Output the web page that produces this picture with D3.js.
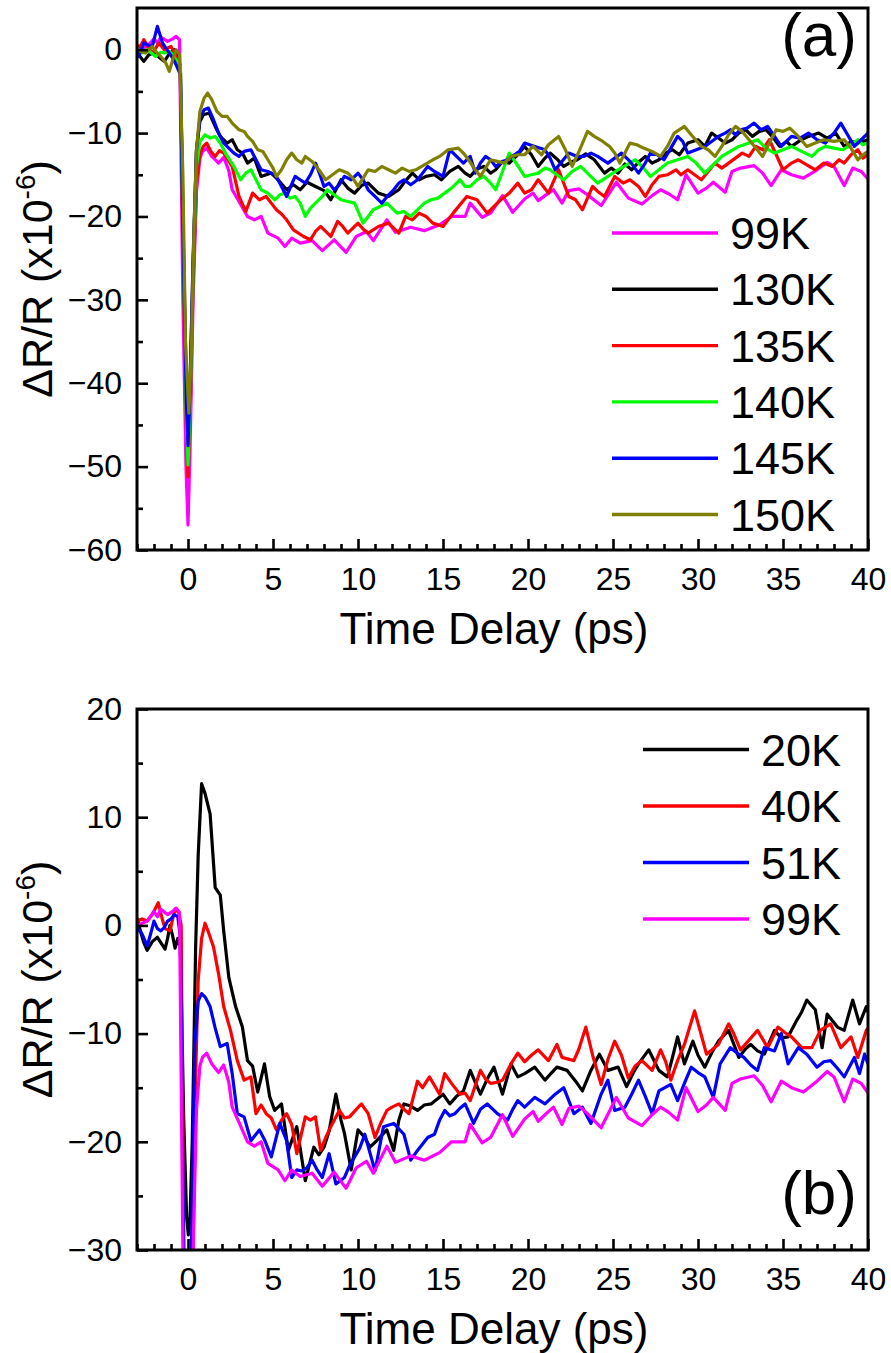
<!DOCTYPE html>
<html>
<head>
<meta charset="utf-8">
<script src="https://cdn.jsdelivr.net/npm/d3@7"></script>
<style>
  body { margin: 0; background: #fff; }
  svg { display: block; }
  text { font-family: "Liberation Sans", Arial, sans-serif; fill: #000; }
</style>
</head>
<body>
<svg id="chart" width="891" height="1353"></svg>
<script>
// ---- data: [time delay (ps), dR/R (x1e-6)] ----
const k99 = [[-3,0],[-2.7,0.2],[-2.4,0.4],[-2.0,1.3],[-1.8,0.8],[-1.6,1.5],[-1.2,1.0],[-0.9,1.3],[-0.7,1.6],[-0.5,1.2],[-0.3,-30],[-0.12,-50],[0,-57],[0.12,-48],[0.3,-30],[0.5,-17],[0.7,-13],[0.85,-12.2],[1.1,-11.8],[1.4,-12.8],[1.8,-13.6],[2.1,-12.9],[2.4,-14.5],[2.6,-16.8],[3.0,-18.2],[3.5,-20.0],[3.9,-20.4],[4.3,-20.0],[4.7,-22.0],[5.3,-22.6],[5.7,-23.6],[6.1,-22.6],[6.6,-23.2],[7.3,-22.9],[7.9,-24.1],[8.6,-22.8],[9.3,-24.3],[9.9,-22.4],[10.5,-21.8],[10.9,-22.9],[11.7,-20.4],[12.2,-21.9],[13.1,-21.3],[13.9,-21.7],[14.8,-21.0],[15.5,-20.0],[16.3,-20.0],[16.6,-18.4],[17.3,-20.1],[17.8,-19.6],[18.5,-17.5],[19.1,-19.5],[19.8,-17.9],[20.3,-17.2],[20.6,-18.1],[21.0,-17.5],[21.5,-16.8],[22.0,-18.4],[22.4,-16.9],[23.0,-16.7],[23.5,-17.4],[24.3,-18.7],[25.2,-15.9],[25.9,-17.8],[26.7,-18.5],[27.3,-17.5],[27.8,-16.8],[28.3,-17.3],[28.8,-18.0],[29.3,-15.0],[30.0,-17.2],[30.5,-16.6],[30.9,-15.9],[31.6,-17.1],[32.0,-14.6],[32.5,-14.2],[33.3,-13.9],[33.8,-14.8],[34.3,-16.3],[34.9,-14.4],[35.5,-15.0],[36.2,-15.4],[37.0,-14.4],[37.6,-13.5],[38.0,-14.0],[38.6,-16.3],[39.1,-14.2],[39.6,-14.6],[40,-15.5]];

const k130 = [[-3,-0.2],[-2.9,-0.6],[-2.6,-1.4],[-2.3,-0.6],[-2.0,-0.4],[-1.7,-0.9],[-1.4,-1.4],[-1.1,-0.5],[-0.8,0],[-0.6,-0.8],[-0.45,-2],[-0.25,-25],[-0.1,-40],[0,-46],[0.12,-40],[0.3,-25],[0.5,-12],[0.7,-8.6],[0.9,-7.8],[1.25,-7.6],[1.6,-9.2],[1.9,-10.4],[2.3,-11.2],[2.6,-10.8],[2.9,-12.0],[3.2,-12.4],[3.5,-13.6],[3.9,-13.0],[4.3,-15.2],[4.9,-14.8],[5.3,-15.6],[5.8,-16.8],[6.2,-16.2],[6.6,-16.8],[7.0,-15.9],[7.5,-16.4],[8.0,-16.9],[8.4,-18.0],[9.0,-15.6],[9.4,-16.6],[9.8,-17.2],[10.2,-16.3],[10.6,-16.0],[11.2,-17.2],[11.8,-17.6],[12.4,-16.8],[12.8,-15.7],[13.2,-14.8],[13.6,-15.6],[14.0,-15.2],[14.5,-15.0],[14.9,-15.6],[15.4,-14.6],[15.9,-14.0],[16.3,-14.8],[16.6,-15.2],[17.0,-14.3],[17.4,-14.0],[17.8,-14.8],[18.1,-14.4],[18.5,-13.4],[18.9,-13.6],[19.3,-12.8],[19.8,-11.6],[20.2,-12.6],[20.6,-14.0],[21.0,-13.0],[21.3,-12.4],[21.7,-13.1],[22.1,-14.0],[22.5,-13.5],[22.9,-13.2],[23.4,-12.5],[23.9,-13.2],[24.5,-14.8],[24.9,-14.2],[25.3,-14.8],[25.7,-13.7],[26.1,-14.4],[26.5,-13.5],[26.9,-12.8],[27.3,-13.6],[27.7,-13.2],[28.1,-12.4],[28.5,-12.0],[28.9,-12.6],[29.4,-11.2],[30.0,-10.8],[30.4,-11.6],[30.8,-10.0],[31.2,-10.6],[31.6,-11.2],[32.0,-10.8],[32.4,-10.0],[32.8,-9.6],[33.2,-10.4],[33.6,-9.8],[34.0,-9.6],[34.4,-10.5],[34.8,-11.6],[35.2,-11.0],[35.5,-11.6],[36.0,-10.9],[36.5,-10.4],[37.1,-10.0],[37.6,-10.6],[38.1,-10.0],[38.6,-11.6],[39.0,-11.0],[39.4,-11.2],[40,-10.8]];

const k135 = [[-3,0.5],[-2.8,0.4],[-2.6,1.2],[-2.3,0.2],[-2.1,-0.4],[-1.7,0.8],[-1.4,0],[-1.0,0.4],[-0.7,-0.8],[-0.45,-2],[-0.25,-28],[-0.1,-45],[0,-51.2],[0.12,-44],[0.3,-28],[0.5,-16],[0.7,-12.5],[0.9,-11.6],[1.1,-11.2],[1.35,-12.2],[1.6,-12.8],[1.85,-12.1],[2.1,-12.4],[2.6,-14.0],[2.8,-15.8],[3.0,-17.6],[3.4,-19.4],[3.8,-17.2],[4.2,-18.0],[4.6,-17.6],[4.9,-18.4],[5.2,-19.2],[5.5,-19.7],[5.8,-20.4],[6.2,-21.6],[6.8,-22.4],[7.2,-22.8],[7.5,-21.8],[7.8,-21.2],[8.1,-21.8],[8.4,-22.4],[8.8,-20.6],[9.1,-21.2],[9.4,-22.0],[10.0,-20.8],[10.3,-21.5],[10.6,-22.0],[11.2,-21.2],[11.8,-20.8],[12.4,-22.0],[12.8,-20.0],[13.2,-20.4],[13.6,-19.6],[14.0,-20.0],[14.4,-20.8],[15.0,-21.2],[15.6,-19.6],[16.0,-18.6],[16.4,-17.6],[17.0,-18.0],[17.6,-19.6],[18.0,-18.8],[18.4,-18.0],[18.9,-17.2],[19.4,-16.0],[19.8,-17.2],[20.2,-16.8],[20.6,-15.6],[21.2,-17.2],[21.8,-14.4],[22.4,-17.6],[22.8,-18.0],[23.2,-19.2],[23.8,-16.4],[24.1,-17.0],[24.5,-17.6],[25.1,-15.2],[25.6,-16.0],[26.0,-15.6],[26.5,-16.4],[26.9,-17.6],[27.3,-16.2],[27.7,-15.2],[28.2,-15.0],[28.7,-14.4],[29.0,-15.0],[29.4,-14.4],[29.8,-15.0],[30.2,-15.6],[30.6,-14.6],[31.0,-13.6],[31.4,-14.2],[31.8,-13.6],[32.2,-13.0],[32.6,-12.4],[33.0,-12.8],[33.4,-11.6],[33.8,-12.0],[34.2,-10.8],[34.6,-12.6],[35.0,-14.4],[35.5,-13.6],[35.9,-13.2],[36.4,-13.8],[36.9,-14.4],[37.4,-13.6],[37.9,-14.0],[38.3,-13.2],[38.6,-13.6],[39.0,-12.6],[39.4,-12.0],[39.7,-13.0],[40,-12.6]];

const k140 = [[-3,-0.3],[-2.7,-0.4],[-2.4,0],[-2.1,-0.5],[-1.9,-0.8],[-1.6,-0.3],[-1.4,-0.4],[-1.1,-0.2],[-0.9,-0.6],[-0.45,-2],[-0.25,-27],[-0.1,-44],[0,-49.8],[0.12,-43],[0.3,-27],[0.5,-14],[0.7,-11],[1.0,-10.2],[1.3,-10.6],[1.6,-10.4],[1.9,-11.2],[2.2,-12.4],[2.7,-14.0],[3.1,-15.6],[3.4,-14.8],[3.7,-14.4],[4.0,-15.6],[4.3,-16.8],[4.7,-17.2],[5.1,-18.0],[5.4,-17.4],[5.7,-17.2],[6.0,-17.8],[6.3,-17.6],[6.6,-18.4],[6.9,-20.0],[7.2,-19.0],[7.5,-18.4],[7.9,-17.6],[8.2,-16.8],[8.6,-17.4],[9.0,-18.0],[9.4,-18.2],[9.8,-18.4],[10.3,-20.8],[10.6,-20.0],[10.9,-19.2],[11.3,-18.8],[11.7,-18.4],[12.0,-19.0],[12.3,-19.6],[12.7,-19.4],[13.1,-20.0],[13.5,-19.2],[13.9,-18.4],[14.3,-18.0],[14.7,-17.8],[15.1,-17.2],[15.5,-16.6],[16.0,-15.6],[16.3,-16.4],[16.6,-16.4],[17.0,-15.6],[17.4,-15.2],[17.8,-16.0],[18.1,-16.8],[18.5,-14.6],[18.9,-12.4],[19.3,-13.6],[19.8,-15.2],[20.2,-15.0],[20.6,-14.8],[21.0,-14.2],[21.3,-14.4],[21.7,-15.0],[22.1,-15.6],[22.6,-14.6],[23.1,-14.0],[23.6,-15.0],[24.1,-16.0],[24.7,-15.2],[25.3,-14.4],[25.8,-13.8],[26.3,-13.2],[26.8,-14.2],[27.2,-15.2],[27.7,-14.4],[28.2,-13.6],[28.8,-13.2],[29.4,-12.8],[29.9,-13.6],[30.4,-14.8],[30.9,-13.8],[31.4,-12.8],[31.9,-12.2],[32.4,-11.6],[33.0,-11.2],[33.5,-10.8],[34.0,-11.8],[34.5,-12.4],[35.0,-12.0],[35.5,-11.6],[36.1,-12.2],[36.7,-12.8],[37.1,-12.0],[37.5,-11.6],[38.0,-11.8],[38.5,-12.0],[39.0,-11.4],[39.4,-10.8],[39.7,-11.4],[40,-11.2]];

const k145 = [[-3,-0.2],[-2.9,-0.8],[-2.6,0.8],[-2.3,0.5],[-2.1,0.4],[-1.8,2.8],[-1.5,0.8],[-1.3,0.2],[-1.1,-0.4],[-0.9,-1.0],[-0.7,-1.8],[-0.45,-3],[-0.25,-27],[-0.1,-42],[0,-47.5],[0.12,-41],[0.3,-26],[0.5,-12],[0.7,-8.2],[0.95,-7.2],[1.2,-7.0],[1.5,-8.4],[1.8,-10.0],[2.1,-11.2],[2.4,-11.8],[2.7,-12.4],[3.0,-12.8],[3.3,-12.2],[3.7,-12.0],[4.0,-13.2],[4.3,-14.4],[4.7,-14.6],[5.2,-15.2],[5.5,-16.4],[5.8,-17.6],[6.0,-16.6],[6.3,-15.2],[6.6,-15.6],[6.9,-16.0],[7.2,-15.0],[7.5,-13.6],[7.8,-15.2],[8.0,-16.4],[8.3,-16.0],[8.6,-16.8],[8.9,-16.2],[9.2,-15.2],[9.6,-15.6],[10.0,-14.8],[10.3,-15.6],[10.6,-16.8],[11.0,-17.6],[11.4,-18.4],[11.8,-17.4],[12.1,-16.8],[12.4,-16.0],[12.7,-15.6],[13.1,-16.2],[13.5,-15.6],[13.8,-14.8],[14.1,-14.0],[14.5,-14.6],[15.0,-15.2],[15.4,-12.0],[15.8,-12.8],[16.2,-13.6],[16.6,-12.8],[16.9,-14.8],[17.2,-13.6],[17.5,-12.8],[17.8,-13.2],[18.1,-14.0],[18.5,-13.4],[18.8,-13.2],[19.2,-12.6],[19.5,-12.2],[19.8,-11.2],[20.4,-11.6],[21.0,-12.0],[21.3,-13.0],[21.6,-14.4],[22.0,-13.4],[22.4,-12.4],[22.9,-12.8],[23.3,-12.8],[23.7,-12.4],[24.1,-12.8],[24.7,-13.6],[25.1,-13.0],[25.5,-12.4],[26.0,-13.4],[26.5,-14.8],[26.9,-13.6],[27.2,-12.4],[27.6,-12.6],[28.0,-13.2],[28.4,-11.8],[28.8,-10.4],[29.1,-11.0],[29.4,-12.4],[29.9,-12.0],[30.4,-11.6],[30.8,-11.0],[31.2,-10.4],[31.6,-10.0],[31.9,-9.6],[32.2,-10.2],[32.5,-9.6],[32.9,-9.4],[33.3,-8.8],[33.7,-9.6],[34.1,-9.2],[34.5,-10.4],[34.9,-11.6],[35.2,-11.0],[35.5,-10.4],[36.0,-10.6],[36.5,-10.0],[37.0,-10.8],[37.5,-11.2],[38.0,-10.0],[38.4,-8.8],[38.8,-10.2],[39.2,-11.6],[39.6,-10.8],[40,-10.0]];

const k150 = [[-3,0.2],[-2.8,-0.2],[-2.5,-0.4],[-2.3,0],[-2.1,0.4],[-1.9,-0.2],[-1.6,-0.8],[-1.3,-1.6],[-1.1,-2.6],[-0.9,-1.2],[-0.7,0],[-0.5,-0.6],[-0.3,-15],[-0.15,-35],[0.05,-43.6],[0.2,-36],[0.35,-22],[0.5,-12],[0.7,-7.4],[0.95,-5.8],[1.15,-5.2],[1.4,-6.0],[1.7,-7.4],[2.0,-8.0],[2.3,-8.0],[2.6,-8.8],[3.0,-9.6],[3.3,-9.8],[3.5,-10.4],[3.8,-11.0],[4.1,-12.0],[4.4,-12.2],[4.7,-13.2],[5.0,-14.2],[5.2,-15.2],[5.5,-14.4],[5.8,-13.2],[6.1,-12.4],[6.4,-13.2],[6.7,-13.6],[6.9,-12.8],[7.3,-13.4],[7.7,-14.4],[8.1,-15.6],[8.5,-15.0],[8.9,-14.4],[9.4,-14.8],[9.7,-15.4],[10.0,-16.4],[10.3,-15.4],[10.6,-14.4],[11.0,-14.6],[11.4,-14.0],[11.8,-14.4],[12.2,-14.8],[12.6,-14.2],[13.0,-14.6],[13.4,-14.4],[13.9,-13.8],[14.4,-13.2],[14.8,-12.8],[15.3,-12.0],[15.9,-11.8],[16.2,-12.4],[16.5,-13.2],[16.9,-14.4],[17.2,-15.2],[17.5,-14.2],[17.8,-13.2],[18.2,-13.4],[18.6,-13.6],[19.0,-12.8],[19.4,-12.6],[19.8,-12.6],[20.3,-11.6],[20.8,-12.6],[21.2,-11.4],[21.8,-10.4],[22.2,-12.0],[22.6,-14.0],[23.0,-12.2],[23.5,-9.8],[23.9,-10.4],[24.4,-11.0],[24.8,-11.6],[25.1,-12.4],[25.4,-13.6],[25.7,-12.4],[26.0,-11.2],[26.4,-11.4],[26.8,-11.8],[27.3,-12.2],[27.8,-12.8],[28.2,-11.6],[28.6,-10.0],[29.2,-9.2],[29.6,-10.2],[30.2,-11.6],[30.6,-12.0],[31.0,-12.8],[31.4,-11.6],[31.8,-10.2],[32.2,-9.2],[32.6,-9.8],[33.0,-10.8],[33.4,-11.8],[33.8,-12.8],[34.2,-11.2],[34.6,-9.6],[35.0,-9.8],[35.4,-9.4],[35.9,-10.4],[36.4,-11.6],[36.9,-11.2],[37.4,-10.8],[38.0,-11.0],[38.6,-10.8],[39.0,-11.8],[39.4,-13.2],[39.7,-12.6],[40,-12.2]];

const k20 = [[-3,0.7],[-2.8,-0.5],[-2.6,-1.6],[-2.4,-2.3],[-2.1,-1.5],[-1.8,-1.1],[-1.6,-1.6],[-1.35,-2.2],[-1.2,-1.2],[-1.06,0],[-0.9,-1.0],[-0.76,-2.1],[-0.6,-1.2],[-0.45,-2],[-0.25,-18],[-0.08,-27],[0.02,-28.6],[0.12,-27],[0.25,-20],[0.45,-2],[0.6,6.5],[0.8,13.1],[1.0,12.2],[1.3,10.3],[1.6,3.5],[1.9,2.8],[2.1,-0.5],[2.4,-4.8],[2.8,-7.5],[3.2,-9.4],[3.5,-12.5],[3.8,-13.0],[4.1,-15.4],[4.5,-12.8],[4.8,-15.8],[5.1,-17.1],[5.5,-16.5],[5.9,-20.8],[6.4,-18.6],[6.9,-23.6],[7.4,-20.5],[7.7,-21.2],[8.0,-20.5],[8.3,-19.0],[8.7,-15.6],[9.0,-18.0],[9.2,-19.2],[9.6,-22.6],[10.0,-18.9],[10.4,-19.6],[10.7,-20.5],[11.1,-19.9],[11.7,-18.9],[12.1,-20.8],[12.4,-18.0],[12.7,-16.5],[13.1,-16.7],[13.5,-17.1],[13.9,-16.6],[14.3,-16.5],[14.7,-16.0],[15.0,-15.6],[15.4,-16.5],[15.8,-15.8],[16.2,-15.3],[16.6,-13.4],[16.9,-14.5],[17.2,-15.6],[17.6,-14.2],[18.0,-13.1],[18.5,-15.6],[19.0,-12.8],[19.4,-14.0],[19.8,-13.7],[20.4,-13.1],[21.0,-14.3],[21.4,-13.6],[21.7,-13.1],[22.3,-13.4],[22.8,-14.4],[23.2,-15.3],[23.7,-13.4],[24.2,-11.9],[24.7,-13.4],[25.3,-13.1],[25.8,-14.9],[26.2,-13.6],[26.5,-12.8],[27.1,-11.5],[27.7,-13.4],[28.2,-14.0],[28.5,-12.2],[28.8,-10.3],[29.2,-12.8],[29.7,-10.7],[30.0,-12.0],[30.4,-13.1],[30.8,-11.8],[31.2,-10.7],[31.8,-9.7],[32.4,-12.2],[32.8,-11.4],[33.1,-11.0],[33.5,-11.6],[33.9,-11.9],[34.5,-9.7],[34.9,-10.4],[35.3,-10.3],[35.8,-8.8],[36.1,-8.0],[36.4,-6.9],[36.9,-7.8],[37.3,-11.3],[37.6,-8.2],[38.2,-9.4],[38.6,-9.7],[39.1,-6.9],[39.5,-9.1],[39.9,-7.5],[40,-8.0]];

const k40 = [[-3,0.4],[-2.7,0.6],[-2.4,0.4],[-2.1,1.0],[-1.75,2.1],[-1.55,0.8],[-1.35,-0.3],[-1.06,-0.5],[-0.9,0.6],[-0.76,1.5],[-0.55,1.2],[-0.4,0],[-0.25,-30],[0,-42],[0.25,-34],[0.3,-30],[0.45,-14],[0.6,-5.1],[0.8,-1.2],[1.0,0.2],[1.2,-0.6],[1.5,-2.0],[1.8,-4.5],[2.1,-7.5],[2.5,-9.7],[2.9,-12.5],[3.3,-14.3],[3.7,-14.0],[4.0,-17.4],[4.3,-16.6],[4.6,-17.4],[4.9,-17.8],[5.2,-18.9],[5.5,-18.0],[5.8,-17.4],[6.1,-18.4],[6.4,-21.1],[6.9,-17.7],[7.2,-18.0],[7.5,-17.7],[7.8,-20.8],[8.1,-19.6],[8.4,-18.6],[8.9,-17.1],[9.2,-17.8],[9.5,-17.7],[9.9,-17.0],[10.2,-16.5],[10.6,-17.4],[11.0,-19.6],[11.3,-18.4],[11.7,-17.1],[12.0,-16.8],[12.4,-16.5],[12.7,-17.0],[13.0,-17.4],[13.5,-14.4],[13.8,-15.0],[14.2,-14.0],[14.5,-14.8],[14.8,-15.6],[15.1,-13.7],[15.5,-14.6],[16.0,-15.6],[16.3,-15.5],[16.6,-16.2],[16.9,-14.8],[17.2,-13.4],[17.5,-14.2],[17.8,-14.6],[18.2,-14.5],[18.5,-14.3],[19.0,-12.8],[19.4,-11.8],[19.8,-12.6],[20.2,-12.0],[20.6,-11.5],[21.2,-12.5],[21.7,-11.0],[22.0,-12.2],[22.7,-12.5],[23.0,-11.4],[23.4,-9.4],[23.8,-12.0],[24.3,-14.7],[24.7,-12.4],[25.1,-10.7],[25.5,-12.0],[25.9,-14.1],[26.3,-13.0],[26.7,-12.5],[27.3,-13.4],[27.8,-11.5],[28.1,-12.6],[28.4,-14.3],[28.8,-12.5],[29.2,-11.0],[29.8,-7.9],[30.1,-9.6],[30.5,-11.9],[31.2,-11.0],[31.8,-9.1],[32.1,-10.0],[32.5,-11.5],[33.0,-10.6],[33.5,-9.7],[34.1,-11.3],[34.7,-9.4],[35.1,-9.9],[35.5,-10.3],[36.1,-11.3],[36.7,-11.3],[37.2,-9.7],[37.8,-9.1],[38.4,-11.3],[39.0,-10.3],[39.4,-12.2],[39.9,-9.7],[40,-9.5]];

const k51 = [[-3,-0.2],[-2.7,-0.8],[-2.4,-1.9],[-2.2,-0.8],[-2.0,0.4],[-1.8,-0.3],[-1.6,-0.5],[-1.4,-0.2],[-1.2,0.4],[-1.0,0.6],[-0.8,1.0],[-0.6,0.8],[-0.45,-1],[-0.25,-30],[0,-40],[0.2,-30],[0.4,-11],[0.6,-7.0],[0.8,-6.3],[1.0,-6.6],[1.3,-7.5],[1.6,-9.5],[1.9,-11.2],[2.3,-10.9],[2.6,-13.7],[2.9,-17.4],[3.3,-17.7],[3.7,-19.9],[4.2,-18.9],[4.5,-19.8],[4.9,-21.4],[5.4,-18.3],[5.8,-19.9],[6.1,-23.3],[6.4,-22.6],[6.7,-22.7],[7.0,-22.4],[7.3,-21.7],[7.6,-22.6],[7.9,-23.3],[8.3,-21.1],[8.7,-23.9],[9.2,-23.3],[9.5,-22.2],[9.8,-21.4],[10.1,-20.6],[10.4,-19.3],[10.7,-21.0],[11.0,-22.7],[11.5,-18.6],[12.1,-18.3],[12.7,-19.3],[13.1,-21.7],[13.5,-20.8],[14.1,-19.6],[14.5,-19.3],[14.8,-18.0],[15.1,-17.1],[15.4,-17.6],[15.7,-17.4],[16.0,-16.9],[16.3,-16.5],[16.8,-18.3],[17.2,-17.0],[17.6,-16.5],[18.2,-17.4],[18.8,-18.0],[19.1,-17.0],[19.4,-16.2],[19.8,-16.8],[20.4,-15.9],[21.0,-16.5],[21.6,-15.6],[22.1,-15.0],[22.7,-17.4],[23.2,-16.8],[23.7,-18.3],[24.3,-15.6],[24.7,-14.3],[25.1,-17.1],[25.7,-16.8],[26.1,-15.6],[26.5,-14.3],[26.9,-15.8],[27.3,-17.4],[27.7,-15.3],[28.4,-14.7],[28.8,-16.2],[29.2,-14.6],[29.6,-13.1],[30.0,-13.6],[30.4,-14.0],[30.9,-15.9],[31.3,-12.8],[31.9,-11.3],[32.3,-11.8],[32.7,-12.2],[33.1,-12.9],[33.5,-13.4],[33.9,-11.3],[34.5,-11.6],[34.9,-10.0],[35.3,-12.8],[35.9,-11.3],[36.4,-11.9],[37.0,-13.1],[37.4,-12.6],[37.8,-12.5],[38.2,-13.2],[38.6,-14.0],[39.2,-12.2],[39.5,-13.7],[39.8,-11.9],[40,-12.8]];

const labelsA = ["99K", "130K", "135K", "140K", "145K", "150K"];
const seriesA = [k99, k130, k135, k140, k145, k150];
const labelsB = ["20K", "40K", "51K", "99K"];
const seriesB = [k20, k40, k51, k99];

const xTicks = [0, 5, 10, 15, 20, 25, 30, 35, 40];
const xMinorTicks = [-3, -2, -1, 1, 2, 3, 4, 6, 7, 8, 9, 11, 12, 13, 14, 16, 17, 18, 19, 21, 22, 23, 24, 26, 27, 28, 29, 31, 32, 33, 34, 36, 37, 38, 39];
const yTicksA = [0, -10, -20, -30, -40, -50, -60];
const yMinorA = [-5, -15, -25, -35, -45, -55];
const yTicksB = [20, 10, 0, -10, -20, -30];
const yMinorB = [15, 5, -5, -15, -25];

// ---- styling ----
const colors = {
  "99K": "#ff00ff", "130K": "#000000", "135K": "#ff0000", "140K": "#00ff00",
  "145K": "#0000ff", "150K": "#808000", "20K": "#000000", "40K": "#ff0000", "51K": "#0000ff"
};

const svg = d3.select("#chart");
const left = 137, right = 868;

function drawPanel(p) {
  const x = d3.scaleLinear().domain([-3, 40]).range([left, right]);
  const y = d3.scaleLinear().domain(p.yDomain).range([p.bottom, p.top]);
  const g = svg.append("g");

  g.append("clipPath").attr("id", p.id + "-clip")
    .append("rect")
    .attr("x", left).attr("y", p.top)
    .attr("width", right - left).attr("height", p.bottom - p.top);

  // curves
  const line = d3.line().x(d => x(d[0])).y(d => y(d[1]));
  g.append("g").attr("clip-path", `url(#${p.id}-clip)`)
    .selectAll("path")
    .data(p.series)
    .join("path")
    .attr("d", line)
    .attr("fill", "none")
    .attr("stroke", (d, i) => colors[p.labels[i]])
    .attr("stroke-width", 3.2)
    .attr("stroke-linejoin", "round")

  // axes (ticks inward)
  const xAxis = g.append("g").attr("transform", `translate(0,${p.bottom})`)
    .call(d3.axisBottom(x).tickValues(xTicks).tickSize(-11).tickPadding(17))
  const xMinor = g.append("g").attr("transform", `translate(0,${p.bottom})`)
    .call(d3.axisBottom(x).tickValues(xMinorTicks).tickSize(-6).tickFormat(""))
  const yAxis = g.append("g").attr("transform", `translate(${left},0)`)
    .call(d3.axisLeft(y).tickValues(p.yTicks).tickSize(-11).tickPadding(15))
  const yMinor = g.append("g").attr("transform", `translate(${left},0)`)
    .call(d3.axisLeft(y).tickValues(p.yMinor).tickSize(-6).tickFormat(""))

  ;[xAxis, xMinor, yAxis, yMinor].forEach(a => {
    a.select(".domain").remove()
    a.selectAll("line").attr("stroke", "#000").attr("stroke-width", 2.6)
    a.selectAll("text").attr("font-size", 32).attr("font-family", "Liberation Sans, Arial, sans-serif").attr("fill", "#000")
  })

  // frame
  g.append("rect")
    .attr("x", left).attr("y", p.top)
    .attr("width", right - left).attr("height", p.bottom - p.top)
    .attr("fill", "none").attr("stroke", "#000").attr("stroke-width", 3)

  // axis titles
  g.append("text")
    .attr("x", 494).attr("y", p.bottom + 94)
    .attr("text-anchor", "middle").attr("font-size", 44)
    .text("Time Delay (ps)")

  const yl = g.append("text")
    .attr("transform", `translate(52,${(p.top + p.bottom) / 2}) rotate(-90)`)
    .attr("text-anchor", "middle").attr("font-size", 43)
  yl.append("tspan").text("\u0394R/R (x10")
  yl.append("tspan").attr("font-size", 28).attr("dy", -17).text("-6")
  yl.append("tspan").attr("dy", 17).text(")")

  // legend
  const leg = g.append("g")
  p.labels.forEach((lab, i) => {
    const ly = p.legY + i * p.legStep
    leg.append("line")
      .attr("x1", p.legX).attr("x2", p.legX + 106)
      .attr("y1", ly).attr("y2", ly)
      .attr("stroke", colors[lab]).attr("stroke-width", 3.4)
    leg.append("text")
      .attr("x", p.legX + 118).attr("y", ly + 16)
      .attr("font-size", 45)
      .text(lab)
  })

  // panel tag
  g.append("text")
    .attr("x", 857).attr("y", p.tagY)
    .attr("text-anchor", "end").attr("font-size", 62)
    .text(p.tag)
}

drawPanel({
  id: "a", top: 8, bottom: 550, yDomain: [-60, 5],
  yTicks: yTicksA, yMinor: yMinorA,
  series: seriesA, labels: labelsA,
  legX: 612, legY: 233, legStep: 56.3,
  tag: "(a)", tagY: 56
})

drawPanel({
  id: "b", top: 709, bottom: 1250, yDomain: [-30, 20],
  yTicks: yTicksB, yMinor: yMinorB,
  series: seriesB, labels: labelsB,
  legX: 643, legY: 749.5, legStep: 56.5,
  tag: "(b)", tagY: 1214
})
</script>
</body>
</html>
